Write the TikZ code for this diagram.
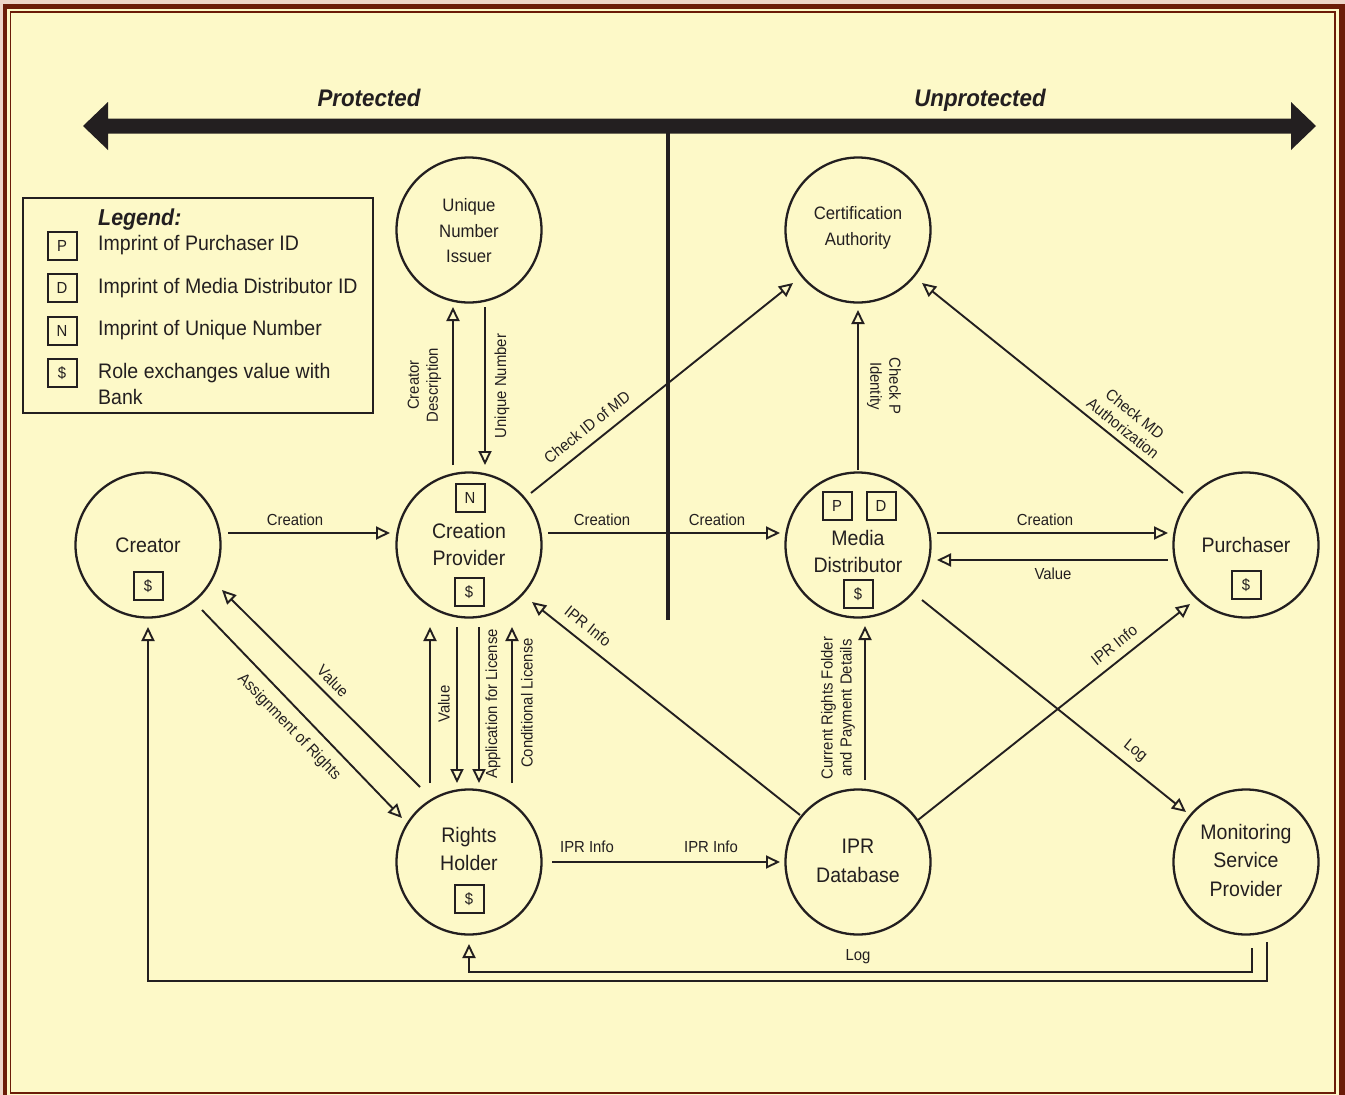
\documentclass[tikz,border=0pt]{standalone}
\usepackage{fontspec}
\setmainfont{Liberation Sans}[FakeStretch=0.93]
\usetikzlibrary{arrows.meta}
\definecolor{ink}{HTML}{231F20}
\definecolor{cream}{HTML}{FDF9C8}
\definecolor{framebrown}{HTML}{6B1C08}
\definecolor{pinkbg}{HTML}{EDD5C8}
\begin{document}
\begin{tikzpicture}[x=1pt,y=-1pt,
 role/.style={circle,draw=ink,line width=2.3pt,minimum size=145pt,inner sep=0pt},
 ntext/.style={text=ink,align=center,inner sep=0pt,font=\fontsize{21}{27}\selectfont},
 stext/.style={text=ink,align=center,inner sep=0pt,font=\fontsize{18}{25.5}\selectfont},
 tagbox/.style={draw=ink,line width=2pt,minimum width=29pt,minimum height=28pt,inner sep=0pt,text=ink,font=\fontsize{16}{16}\selectfont},
 lab/.style={text=ink,font=\fontsize{16}{19}\selectfont,align=center,inner sep=0pt},
 arr/.style={draw=ink,line width=1.9pt,-{Triangle[open,length=14pt,width=13pt]}},
 leg/.style={text=ink,font=\fontsize{21}{26}\selectfont,anchor=base west,inner sep=0pt},
 side/.style={text=ink,font=\bfseries\itshape\fontsize{24}{28}\selectfont,inner sep=0pt,anchor=base}]
\useasboundingbox (0,0) rectangle (1345,1095);
% frame
\fill[pinkbg] (0,0) rectangle (1345,1095);
\fill[framebrown] (3,4) rectangle (1345,1100);
\fill[cream] (7,9) rectangle (1339,1100);
\draw[framebrown,line width=1.2pt] (10.5,12) rectangle (1335,1093);

% protected / unprotected bar
\fill[ink] (83,126) -- (108,102) -- (108,118.5) -- (1291,118.5) -- (1291,102) -- (1316,126)
  -- (1291,150) -- (1291,133.5) -- (108,133.5) -- (108,150) -- cycle;
\draw[ink,line width=4pt] (668,126) -- (668,620);
\node[side] (prot) at (369,106) {Protected};
\node[side] (unprot) at (980,106) {Unprotected};

% legend
\draw[ink,line width=2pt] (23,198) rectangle (373,413);
\node[leg,font=\bfseries\itshape\fontsize{23}{26}\selectfont] (legt) at (98,225) {Legend:};
\node[tagbox] (lp) at (62,245.5) {P};
\node[tagbox] (ld) at (62,287.5) {D};
\node[tagbox] (ln) at (62,330.5) {N};
\node[tagbox] (ls) at (62,373) {\$};
\node[leg] (lpt) at (98,250) {Imprint of Purchaser ID};
\node[leg] (ldt) at (98,293) {Imprint of Media Distributor ID};
\node[leg] (lnt) at (98,335) {Imprint of Unique Number};
\node[leg] (lst) at (98,378) {Role exchanges value with};
\node[leg] (lst2) at (98,404) {Bank};

% roles
\node[role] (uni) at (469,230) {};
\node[role] (ca) at (858,230) {};
\node[role] (cr) at (148,545) {};
\node[role] (cp) at (469,545) {};
\node[role] (md) at (858,545) {};
\node[role] (pu) at (1246,545) {};
\node[role] (rh) at (469,862) {};
\node[role] (db) at (858,862) {};
\node[role] (ms) at (1246,862) {};

\node[stext] (unit) at (469,231) {Unique\\Number\\Issuer};
\node[stext] (cat) at (858,228) {Certification\\Authority};
\node[ntext] (crt) at (148,545) {Creator};
\node[ntext] (cpt) at (469,544) {Creation\\Provider};
\node[ntext] (mdt) at (858,551) {Media\\Distributor};
\node[ntext] (put) at (1246,545) {Purchaser};
\node[ntext,font=\fontsize{21}{28}\selectfont] (rht) at (469,849) {Rights\\Holder};
\node[ntext,font=\fontsize{21}{29}\selectfont] (dbt) at (858,861) {IPR\\Database};
\node[ntext,font=\fontsize{21}{28.5}\selectfont] (mst) at (1246,860) {Monitoring\\Service\\Provider};

% tags in roles
\node[tagbox] (crs) at (148,586) {\$};
\node[tagbox] (cpn) at (470,498) {N};
\node[tagbox] (cps) at (469,592) {\$};
\node[tagbox] (mdp) at (837,506) {P};
\node[tagbox] (mdd) at (881,506) {D};
\node[tagbox] (mds) at (858,594) {\$};
\node[tagbox] (pus) at (1246,585) {\$};
\node[tagbox] (rhs) at (469,899) {\$};

% connectors
\draw[arr] ([shift={(80,-12)}]cr.center) -- ([shift={(-79,-12)}]cp.center);
\draw[arr] ([shift={(79,-12)}]cp.center) -- ([shift={(-78,-12)}]md.center);
\draw[arr] ([shift={(79,-12)}]md.center) -- ([shift={(-78,-12)}]pu.center);
\draw[arr] ([shift={(-78,15)}]pu.center) -- ([shift={(79,15)}]md.center);
\draw[arr] ([shift={(-16,-80)}]cp.center) -- ([shift={(-16,77)}]uni.center);
\draw[arr] ([shift={(16,77)}]uni.center) -- ([shift={(16,-80)}]cp.center);
\draw[arr] ([shift={(62,-52)}]cp.center) -- ([shift={(-65,53)}]ca.center);
\draw[arr] ([shift={(0,-75)}]md.center) -- ([shift={(0,80)}]ca.center);
\draw[arr] ([shift={(-63,-52)}]pu.center) -- ([shift={(64,53)}]ca.center);
\draw[arr] ([shift={(-49,-75)}]rh.center) -- ([shift={(74,45)}]cr.center);
\draw[arr] ([shift={(54,65)}]cr.center) -- ([shift={(-67,-44)}]rh.center);
\draw[arr] ([shift={(-39,-79)}]rh.center) -- ([shift={(-39,82)}]cp.center);
\draw[arr] ([shift={(-12,82)}]cp.center) -- ([shift={(-12,-79)}]rh.center);
\draw[arr] ([shift={(10,82)}]cp.center) -- ([shift={(10,-79)}]rh.center);
\draw[arr] ([shift={(43,-79)}]rh.center) -- ([shift={(43,82)}]cp.center);
\draw[arr] ([shift={(-58,-47)}]db.center) -- ([shift={(63,57)}]cp.center);
\draw[arr] ([shift={(7,-82)}]db.center) -- ([shift={(7,81)}]md.center);
\draw[arr] ([shift={(83,0)}]rh.center) -- ([shift={(-78,0)}]db.center);
\draw[arr] ([shift={(60,-42)}]db.center) -- ([shift={(-56,59)}]pu.center);
\draw[arr] ([shift={(64,55)}]md.center) -- ([shift={(-60,-50)}]ms.center);
\draw[arr] ([shift={(6,86)}]ms.center) -- ++(0,24) -| ([shift={(0,82)}]rh.center);
\draw[arr] ([shift={(21,80)}]ms.center) -- ++(0,39) -| ([shift={(0,82)}]cr.center);

% connector labels
\node[lab] (l1) at (295,520) {Creation};
\node[lab] (l2) at (602,520) {Creation};
\node[lab] (l3) at (717,520) {Creation};
\node[lab] (l4) at (1045,520) {Creation};
\node[lab] (l5) at (1053,574) {Value};
\node[lab] (l6) at (587,847) {IPR Info};
\node[lab] (l7) at (711,847) {IPR Info};
\node[lab] (l8) at (858,957) {Log};
\node[lab,rotate=90] (l9) at (424.5,385) {Creator\\Description};
\node[lab,rotate=90] (l10) at (502,386) {Unique Number};
\node[lab,rotate=-90] (l11) at (884,386) {Check P\\Identity};
\node[lab,rotate=90] (l12) at (444,704) {Value};
\node[lab,rotate=90] (l13) at (493,704) {Application for License};
\node[lab,rotate=90] (l14) at (527,703) {Conditional License};
\node[lab,rotate=90] (l15) at (838,708) {Current Rights Folder\\and Payment Details};
\node[lab,rotate=38.7] (l16) at (587,427) {Check ID of MD};
\node[lab,rotate=-38.8] (l17) at (1129,421) {Check MD\\Authorization};
\node[lab,rotate=-38.5] (l18) at (588,626) {IPR Info};
\node[lab,rotate=38.5] (l19) at (1114,645) {IPR Info};
\node[lab,rotate=-38.8] (l20) at (1135,751) {Log};
\node[lab,rotate=-45] (l21) at (333,681) {Value};
\node[lab,rotate=-46] (l22) at (289,727) {Assignment of Rights};
\end{tikzpicture}
\end{document}
